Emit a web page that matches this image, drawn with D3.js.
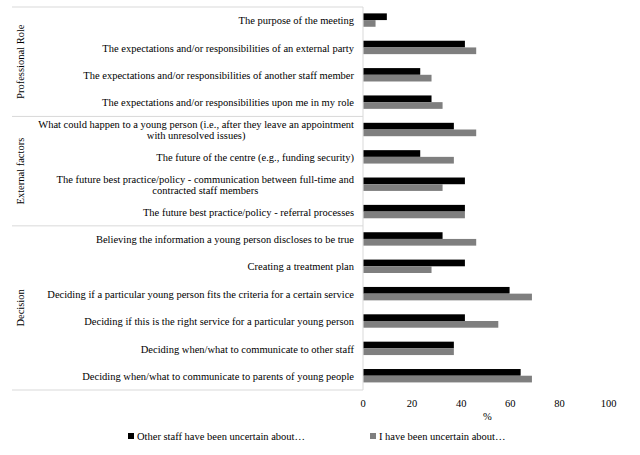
<!DOCTYPE html>
<html><head><meta charset="utf-8">
<script src="https://cdn.jsdelivr.net/npm/d3@7"></script>
<style>
html,body{margin:0;padding:0;background:#fff;}
svg text{font-family:"Liberation Serif","Times New Roman",serif;fill:#000;}
</style></head>
<body><svg id="c" width="640" height="455"></svg>
<script>
const categories = [
  "The purpose of the meeting",
  "The expectations and/or responsibilities of an external party",
  "The expectations and/or responsibilities of another staff member",
  "The expectations and/or responsibilities upon me in my role",
  "What could happen to a young person (i.e., after they leave an appointment\nwith unresolved issues)",
  "The future of the centre (e.g., funding security)",
  "The future best practice/policy - communication between full-time and\ncontracted staff members",
  "The future best practice/policy - referral processes",
  "Believing the information a young person discloses to be true",
  "Creating a treatment plan",
  "Deciding if a particular young person fits the criteria for a certain service",
  "Deciding if this is the right service for a particular young person",
  "Deciding when/what to communicate to other staff",
  "Deciding when/what to communicate to parents of young people"
];
const groups = [
  {name: "Professional Role", start: 0, end: 3},
  {name: "External factors", start: 4, end: 7},
  {name: "Decision", start: 8, end: 13}
];
const seriesNames = ["Other staff have been uncertain about…", "I have been uncertain about…"];
const otherStaff = [9.1, 40.9, 22.7, 27.3, 36.4, 22.7, 40.9, 40.9, 31.8, 40.9, 59.1, 40.9, 36.4, 63.6];
const myself     = [4.5, 45.5, 27.3, 31.8, 45.5, 36.4, 31.8, 40.9, 45.5, 27.3, 68.2, 54.5, 36.4, 68.2];
const xTicks = [0, 20, 40, 60, 80, 100];
const colors = ["#000000", "#7f7f7f"];

const svg = d3.select("#c");
const plotTop = 7, plotBottom = 390, plotLeft = 12, axisX = 363;
const x = d3.scaleLinear().domain([0, 100]).range([364.5, 610]);
const y = d3.scaleBand().domain(d3.range(categories.length)).range([plotTop, plotBottom]).padding(0);
const barH = 13.4;
const sub = d3.scaleBand().domain([0, 1]).range([y.bandwidth()/2 - barH/2 - 0.6, y.bandwidth()/2 + barH/2 - 0.6]);

// table lines
const lineColor = "#d9d9d9";
const hLines = [plotTop, ...groups.map(g => y(g.end) + y.bandwidth())];
svg.selectAll("line.h").data(hLines).enter().append("line")
  .attr("x1", plotLeft).attr("x2", axisX).attr("y1", d => d).attr("y2", d => d)
  .attr("stroke", lineColor).attr("stroke-width", 1);
svg.append("line").attr("x1", axisX).attr("x2", axisX).attr("y1", plotTop).attr("y2", plotBottom)
  .attr("stroke", lineColor).attr("stroke-width", 1);

// bars
const data = categories.map((c, i) => [otherStaff[i], myself[i]]);
const rows = svg.selectAll("g.row").data(data).enter().append("g")
  .attr("transform", (d, i) => `translate(0,${y(i)})`);
rows.selectAll("rect").data(d => d).enter().append("rect")
  .attr("x", x(0) - 1)
  .attr("y", (d, j) => sub(j))
  .attr("width", d => x(d) - x(0) + 1)
  .attr("height", sub.bandwidth())
  .attr("fill", (d, j) => colors[j]);

// category labels
const labelRight = 354;
const fs = 10.5;
categories.forEach((c, i) => {
  const lines = c.split("\n");
  const cy = y(i) + y.bandwidth()/2;
  const lh = 11.5;
  const t = svg.append("text").attr("font-size", fs);
  const spans = lines.map((ln, k) => t.append("tspan").text(ln)
      .attr("y", cy + 3.6 + (k - (lines.length - 1)/2) * lh));
  if (lines.length === 1) {
    t.attr("text-anchor", "end");
    spans[0].attr("x", labelRight);
  } else {
    const widths = spans.map(s => s.node().getComputedTextLength());
    const maxW = d3.max(widths);
    const cx = labelRight - maxW/2;
    t.attr("text-anchor", "middle");
    spans.forEach(s => s.attr("x", cx));
  }
});

// group labels
groups.forEach(g => {
  const cy = (y(g.start) + y(g.end) + y.bandwidth())/2;
  svg.append("text").attr("font-size", fs).attr("text-anchor", "middle")
    .attr("transform", `translate(23.5,${cy}) rotate(-90)`)
    .text(g.name);
});

// x axis tick labels
svg.selectAll("text.tick").data(xTicks).enter().append("text")
  .attr("font-size", fs).attr("text-anchor", "middle")
  .attr("x", d => x(d) - 1.5).attr("y", 407).text(d => d);
svg.append("text").attr("font-size", fs).attr("text-anchor", "middle")
  .attr("x", (x(0) + x(100))/2).attr("y", 420).text("%");

// legend
const legendX = [128, 370];
seriesNames.forEach((s, j) => {
  svg.append("rect").attr("x", legendX[j]).attr("y", 433).attr("width", 6).attr("height", 6).attr("fill", colors[j]);
  svg.append("text").attr("font-size", fs).attr("x", legendX[j] + 9).attr("y", 440).text(s);
});
</script></body></html>
